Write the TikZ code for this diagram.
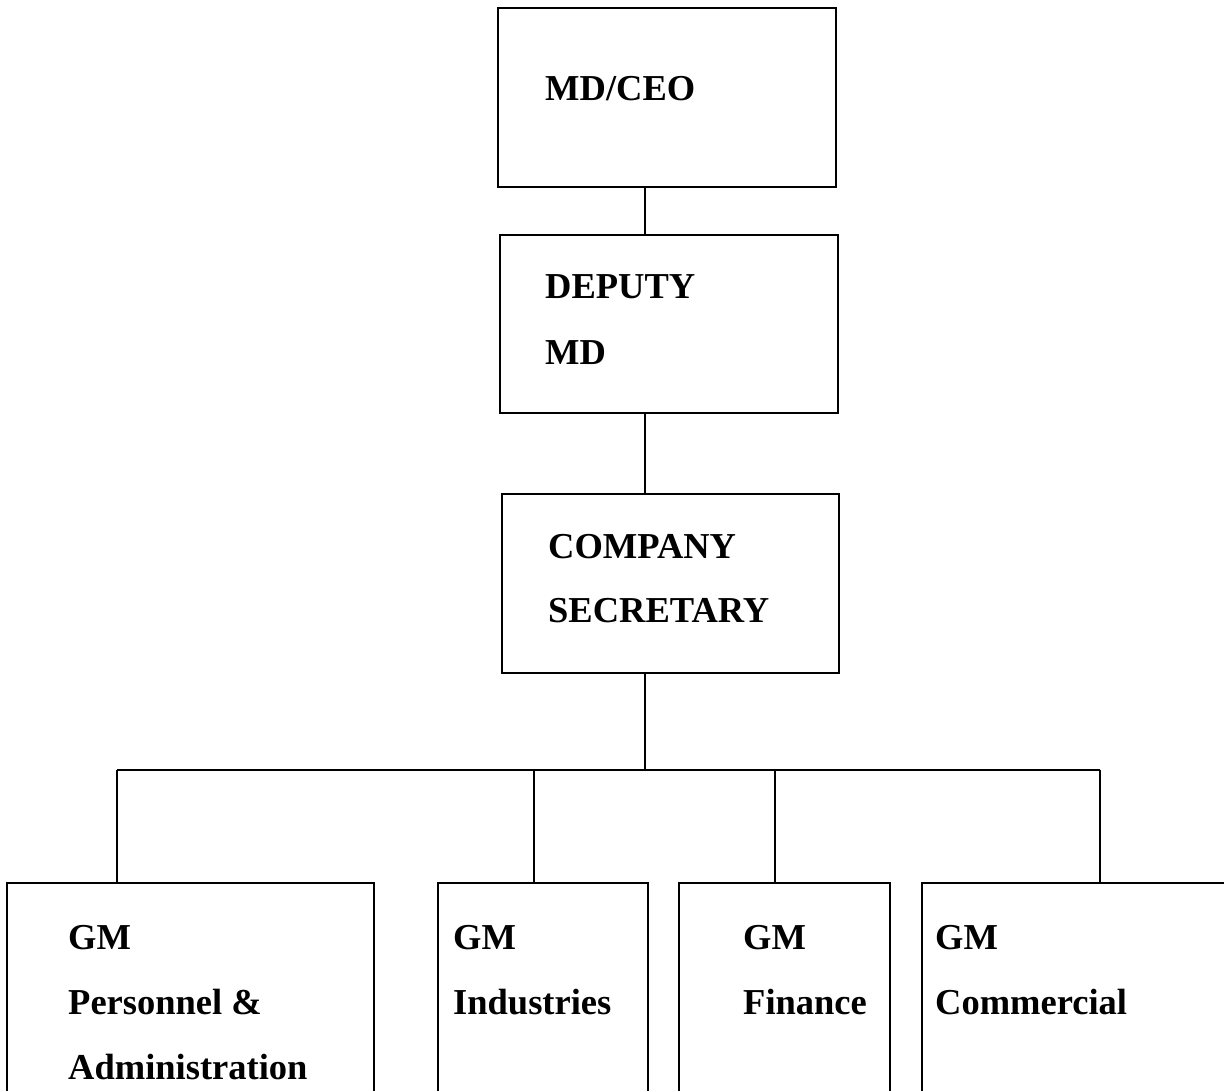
\documentclass[tikz,border=0pt]{standalone}
\usepackage{fontspec}
\setmainfont{Liberation Serif}
\begin{document}
\begin{tikzpicture}[x=1pt,y=-1pt,
  box/.style={draw,line width=1.6pt,rectangle,inner sep=0pt},
  lbl/.style={anchor=base west,inner sep=0pt,font=\fontsize{36.5}{40}\selectfont\bfseries},
  link/.style={line width=1.6pt}]
\clip (0,0) rectangle (1224,1091);
% boxes
\node[box,minimum width=338pt,minimum height=179pt] (ceo) at (667,97.5) {};
\node[box,minimum width=338pt,minimum height=178pt] (dep) at (669,324) {};
\node[box,minimum width=337pt,minimum height=179pt] (sec) at (670.5,583.5) {};
\node[box,minimum width=367pt,minimum height=267pt] (gma) at (190.5,1016.5) {};
\node[box,minimum width=210pt,minimum height=267pt] (gmb) at (543,1016.5) {};
\node[box,minimum width=211pt,minimum height=267pt] (gmc) at (784.5,1016.5) {};
\node[box,minimum width=378pt,minimum height=267pt] (gmd) at (1111,1016.5) {};
% texts
\node[lbl] (t1) at (545,101) {MD/CEO};
\node[lbl] (t2) at (545,299) {DEPUTY};
\node[lbl] (t3) at (545,364) {MD};
\node[lbl] (t4) at (548,558) {COMPANY};
\node[lbl] (t5) at (548,622) {SECRETARY};
\node[lbl] (t6) at (68,949) {GM};
\node[lbl] (t7) at (68,1014) {Personnel \&};
\node[lbl] (t8) at (68,1079) {Administration};
\node[lbl] (t9) at (453,949) {GM};
\node[lbl] (t10) at (453,1014) {Industries};
\node[lbl] (t11) at (743,949) {GM};
\node[lbl] (t12) at (743,1014) {Finance};
\node[lbl] (t13) at (935,949) {GM};
\node[lbl] (t14) at (935,1014) {Commercial};
% connector coordinates
\coordinate (spine) at (645,0);
\coordinate (bus) at (0,770);
\coordinate (da) at (117,0);
\coordinate (db) at (534,0);
\coordinate (dc) at (775,0);
\coordinate (dd) at (1100,0);
% connectors
\draw[link] (ceo.south -| spine) -- (dep.north -| spine);
\draw[link] (dep.south -| spine) -- (sec.north -| spine);
\draw[link] (sec.south -| spine) -- (spine |- bus);
\draw[link] (da |- bus) -- (dd |- bus);
\draw[link] (da |- bus) -- (gma.north -| da);
\draw[link] (db |- bus) -- (gmb.north -| db);
\draw[link] (dc |- bus) -- (gmc.north -| dc);
\draw[link] (dd |- bus) -- (gmd.north -| dd);
\end{tikzpicture}
\end{document}
